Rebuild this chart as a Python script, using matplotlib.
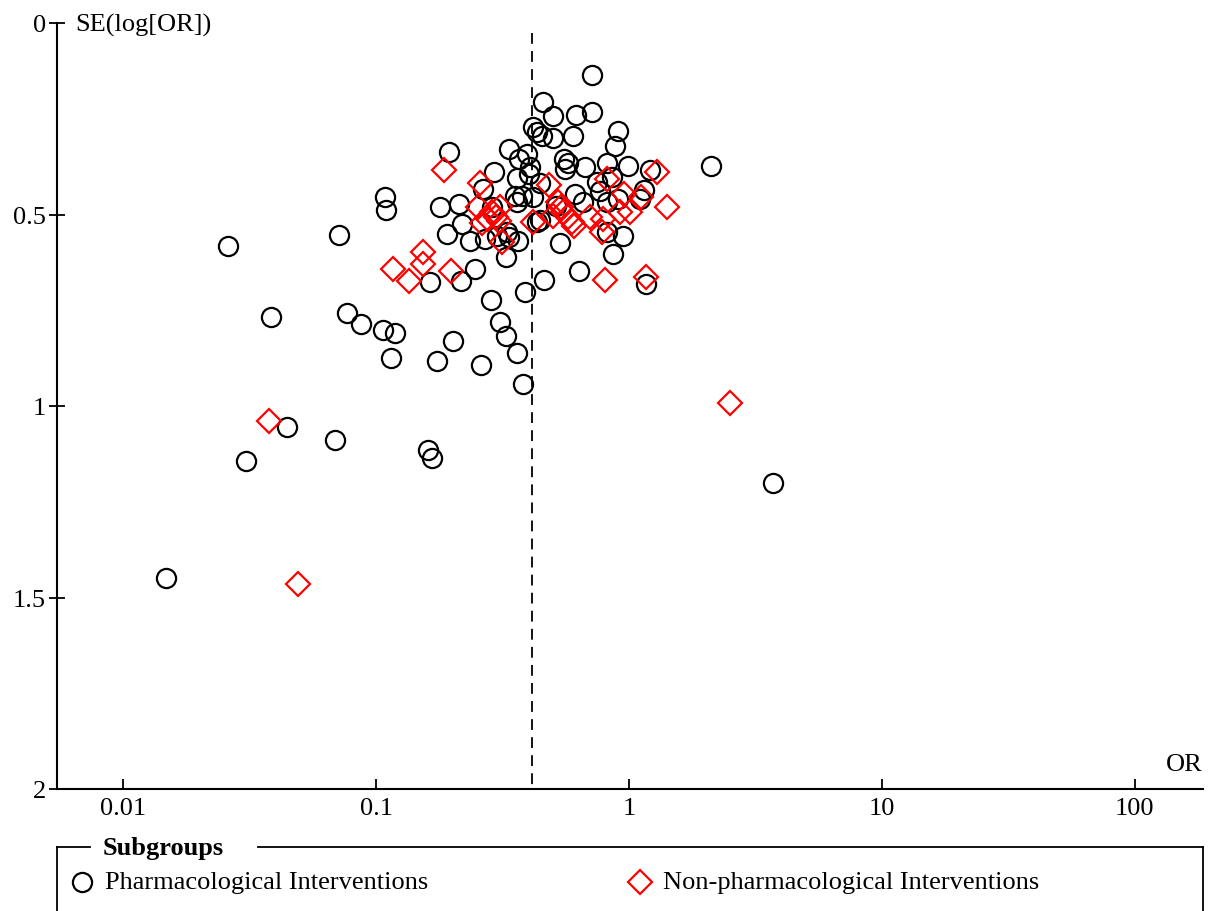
import matplotlib
matplotlib.use("Agg")
import matplotlib.pyplot as plt

plt.rcParams['font.family'] = ['Liberation Serif', 'DejaVu Serif']

# ---- data ----
pharm_or = [0.714, 0.457, 0.501, 0.617, 0.714, 0.417, 0.433, 0.453, 0.501, 0.601,
            0.905, 0.880, 0.194, 0.336, 0.395, 0.367, 0.406, 0.403, 0.553, 0.574,
            0.558, 0.670, 0.819, 0.991, 1.21, 2.11, 0.293, 0.361, 0.265, 0.445,
            0.748, 0.857, 0.768, 1.15, 0.354, 0.378, 0.361, 0.417, 0.612, 0.658,
            0.819, 0.905, 1.105, 0.1086, 0.1095, 0.179, 0.213, 0.287, 0.219, 0.191,
            0.235, 0.270, 0.330, 0.336, 0.364, 0.327, 0.433, 0.445, 0.515, 0.534,
            0.819, 0.947, 0.865, 0.0714, 0.026, 0.246, 0.217, 0.163, 0.285, 0.388,
            0.461, 0.634, 1.167, 0.0768, 0.0872, 0.1066, 0.119, 0.201, 0.115, 0.174,
            0.260, 0.309, 0.327, 0.361, 0.381, 0.0385, 0.0445, 0.0306, 0.0689, 0.1606,
            0.1665, 0.0148, 3.71, 0.301]
pharm_se = [0.136, 0.206, 0.243, 0.240, 0.232, 0.272, 0.285, 0.295, 0.300, 0.295,
            0.282, 0.321, 0.337, 0.329, 0.342, 0.355, 0.376, 0.394, 0.355, 0.366,
            0.381, 0.376, 0.366, 0.373, 0.384, 0.373, 0.389, 0.405, 0.433, 0.418,
            0.415, 0.402, 0.439, 0.436, 0.452, 0.452, 0.467, 0.454, 0.446, 0.467,
            0.467, 0.460, 0.460, 0.454, 0.488, 0.480, 0.473, 0.480, 0.525, 0.551,
            0.569, 0.564, 0.546, 0.559, 0.569, 0.611, 0.520, 0.514, 0.478, 0.574,
            0.546, 0.556, 0.603, 0.554, 0.582, 0.642, 0.674, 0.676, 0.723, 0.702,
            0.671, 0.648, 0.681, 0.757, 0.786, 0.802, 0.809, 0.830, 0.875, 0.883,
            0.893, 0.781, 0.817, 0.862, 0.943, 0.768, 1.055, 1.144, 1.089, 1.115,
            1.136, 1.449, 1.201, 0.556]

nonpharm_or = [0.186, 0.258, 0.483, 0.819, 1.29, 0.956, 1.41, 1.116, 1.009, 0.921,
               0.789, 0.782, 0.701, 0.595, 0.574, 0.606, 0.548, 0.524, 0.539, 0.501,
               0.417, 0.315, 0.309, 0.287, 0.298, 0.277, 0.262, 0.253, 0.306, 0.153,
               0.153, 0.117, 0.135, 0.198, 0.804, 1.167, 0.0378, 0.0492, 2.51]
nonpharm_se = [0.384, 0.418, 0.423, 0.407, 0.389, 0.446, 0.480, 0.454, 0.493, 0.493,
               0.512, 0.546, 0.507, 0.520, 0.507, 0.530, 0.493, 0.467, 0.480, 0.504,
               0.520, 0.572, 0.480, 0.493, 0.507, 0.512, 0.522, 0.480, 0.517, 0.598,
               0.629, 0.642, 0.674, 0.648, 0.671, 0.663, 1.039, 1.465, 0.992]

pooled_or = 0.414
x_ticks = [0.01, 0.1, 1, 10, 100]
x_ticklabels = ['0.01', '0.1', '1', '10', '100']
y_ticks = [0, 0.5, 1, 1.5, 2]
y_ticklabels = ['0', '0.5', '1', '1.5', '2']
legend_title = 'Subgroups'
group_labels = ['Pharmacological Interventions', 'Non-pharmacological Interventions']

# ---- figure ----
W, H = 1208, 912
fig = plt.figure(figsize=(W / 100, H / 100), dpi=100)
ax = fig.add_axes([57 / W, 1 - 790 / H, (1203 - 57) / W, (790 - 24) / H])

FS = 19
CIRC_MS, DIAM_MS, MEW = 13.8, 11.8, 1.6
ax.plot(pharm_or, pharm_se, linestyle='none', marker='o', markersize=CIRC_MS,
        markerfacecolor='none', markeredgecolor='black', markeredgewidth=MEW,
        clip_on=False, zorder=3)
ax.plot(nonpharm_or, nonpharm_se, linestyle='none', marker='D', markersize=DIAM_MS,
        markerfacecolor='none', markeredgecolor='#ff0000', markeredgewidth=MEW,
        clip_on=False, zorder=4)
ax.plot([pooled_or, pooled_or], [0.026, 2], color='black', linewidth=1.3,
        dashes=(6, 4), zorder=2)

ax.set_xscale('log')
ax.set_xlim(0.00548, 186)
ax.set_ylim(2, 0)
ax.set_xticks(x_ticks)
ax.set_xticklabels(x_ticklabels)
ax.minorticks_off()
ax.set_yticks(y_ticks)
ax.set_yticklabels(y_ticklabels)

for s in ['top', 'right']:
    ax.spines[s].set_visible(False)
for s in ['left', 'bottom']:
    ax.spines[s].set_linewidth(1.5)
ax.tick_params(axis='x', direction='in', length=7.5, width=1.3, pad=6, labelsize=FS)
ax.tick_params(axis='y', direction='inout', length=11, width=1.3, pad=2.5, labelsize=FS)

ax.text(0.016, 0.998, 'SE(log[OR])', transform=ax.transAxes, ha='left', va='center',
        fontsize=FS)
ax.text(1.0, 0.032, 'OR', transform=ax.transAxes, ha='right', va='center', fontsize=FS)

# ---- legend (drawn in pixel coordinates) ----
lg = fig.add_axes([0, 0, 1, 1], zorder=-1)
lg.set_xlim(0, W)
lg.set_ylim(H, 0)
lg.axis('off')
box_top = 848
lg.plot([57, 57], [box_top, H + 5], color='black', lw=1.3, clip_on=False)
lg.plot([1203, 1203], [box_top, H + 5], color='black', lw=1.3, clip_on=False)
lg.plot([57, 90], [box_top, box_top], color='black', lw=1.3)
lg.plot([258, 1203], [box_top, box_top], color='black', lw=1.3)
lg.text(103, box_top + 1, legend_title, ha='left', va='center', fontsize=FS,
        fontweight='bold')
lg.plot([82], [883], marker='o', markersize=CIRC_MS, markerfacecolor='none',
        markeredgecolor='black', markeredgewidth=MEW)
lg.text(105, 883, group_labels[0], ha='left', va='center', fontsize=FS)
lg.plot([640], [883], marker='D', markersize=DIAM_MS, markerfacecolor='none',
        markeredgecolor='#ff0000', markeredgewidth=MEW)
lg.text(663, 883, group_labels[1], ha='left', va='center', fontsize=FS)

fig.savefig('out.png', dpi=100)
